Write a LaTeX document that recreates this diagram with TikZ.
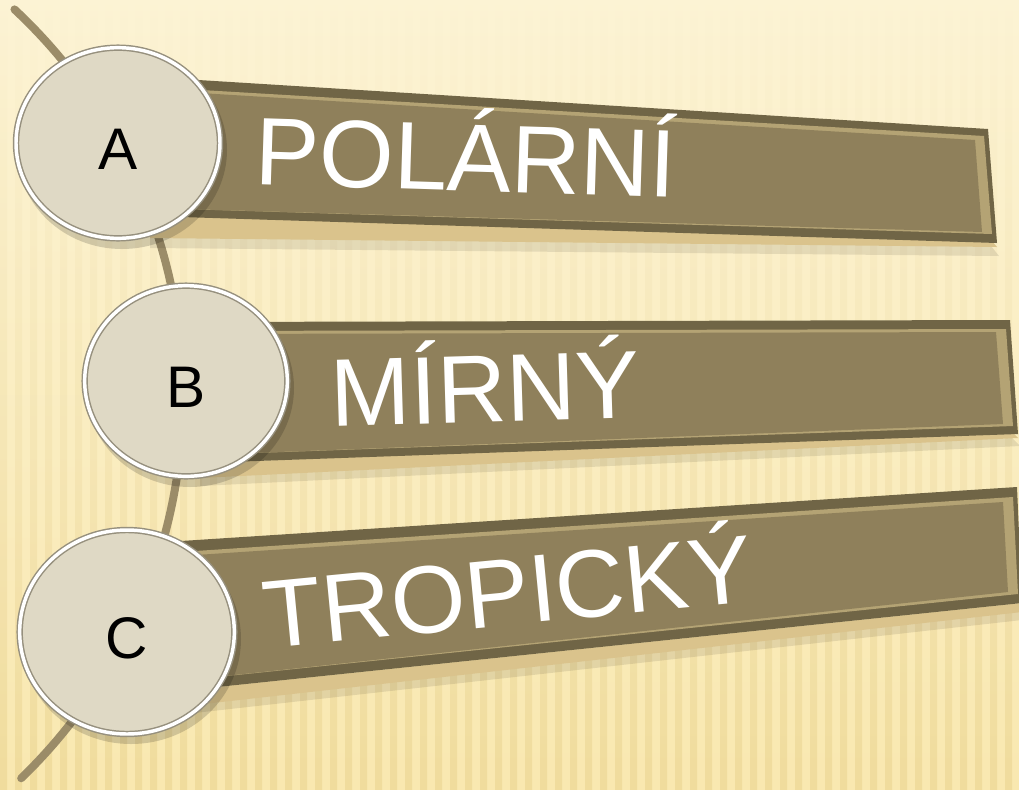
\documentclass[tikz,border=0pt]{standalone}
\usepackage{fontspec}
\setmainfont{Liberation Sans}
\usetikzlibrary{shapes.geometric, positioning, calc}
\definecolor{pozadiHore}{RGB}{252,243,212}
\definecolor{pozadiDole}{RGB}{249,232,176}
\definecolor{prouzek}{RGB}{230,206,134}
\definecolor{oblouk}{RGB}{155,140,104}
\definecolor{listaTmava}{RGB}{112,101,70}
\definecolor{listaHrana}{RGB}{180,163,116}
\definecolor{listaPlocha}{RGB}{140,126,89}
\definecolor{listaBok}{RGB}{218,195,140}
\definecolor{kruhVypln}{RGB}{223,217,197}
\definecolor{kruhOkraj}{RGB}{150,144,126}

\begin{document}
\begin{tikzpicture}[x=0.75pt, y=-0.75pt,
  barshadow/.style={fill=black, opacity=0.09},
  barside/.style={fill=listaBok},
  barframe/.style={fill=listaTmava},
  barbevel/.style={fill=listaHrana},
  barface/.style={fill=listaPlocha, fill opacity=0.92},
  bartext/.style={text=white, font=\fontsize{72}{72}\selectfont, anchor=base, inner sep=0pt},
  discshadow/.style={fill=black, opacity=0.16},
  disc/.style={ellipse, draw=kruhOkraj, line width=1.1pt, double=white, double distance=2.6pt,
               fill=kruhVypln, inner sep=0pt, text height=40pt, text depth=0pt,
               font=\fontsize{44}{44}\selectfont}
]
  \useasboundingbox (0,0) rectangle (1019,789);
  \begin{scope}
  \clip (0,0) rectangle (1019,789);

  % pozadi s prouzky
  \shade[top color=pozadiHore, bottom color=pozadiDole] (0,0) rectangle (1019,789);
  \foreach \sx in {0,15,...,1019} {
    \shade[top color=pozadiHore, bottom color=prouzek, opacity=0.45] (\sx,0) rectangle ++(7,789);
  }

  % oblouk za kruhy
  \draw[oblouk, line width=6pt, line cap=round] (-347,397) ++(-47:530)
    arc[start angle=-47, end angle=46, radius=530];

  % lista A
  \fill[barshadow] (150,222) -- (991,246) -- (999,256) -- (150,248) -- cycle;
  \fill[barside] (150,214) -- (991,240) -- (997,247) -- (150,238) -- cycle;
  \fill[barframe] (150,77) -- (988,129) -- (997,243) -- (150,216) -- cycle;
  \fill[barbevel] (150,87) -- (984,136) -- (992,234) -- (150,208) -- cycle;
  \fill[barface] (150,90) -- (975,140) -- (982,232) -- (150,208) -- cycle;

  % lista B
  \fill[barshadow] (200,470) -- (1012,438) -- (1020,446) -- (200,486) -- cycle;
  \fill[barside] (200,463) -- (1012,432) -- (1018,438) -- (200,478) -- cycle;
  \fill[barframe] (200,322) -- (1010,320) -- (1018,434) -- (200,463) -- cycle;
  \fill[barbevel] (200,331) -- (1006,329) -- (1013,426) -- (200,455) -- cycle;
  \fill[barface] (200,334) -- (996,332) -- (1003,424) -- (200,455) -- cycle;

  % lista C
  \fill[barshadow] (150,702) -- (1022,610) -- (1022,620) -- (150,718) -- cycle;
  \fill[barside] (150,694) -- (1022,603) -- (1022,612) -- (150,710) -- cycle;
  \fill[barframe] (150,543) -- (1017,487) -- (1022,603) -- (150,694) -- cycle;
  \fill[barbevel] (150,554) -- (1013,497) -- (1018,594) -- (150,684) -- cycle;
  \fill[barface] (150,558) -- (1003,502) -- (1008,592) -- (150,684) -- cycle;

  % texty na listach
  \node[bartext, rotate=-1.8] (tA) at (465,191) {POLÁRNÍ};
  \node[bartext, rotate=1.7] (tB) at (486,422) {MÍRNÝ};
  \node[bartext, rotate=5.5] (tC) at (511,625) {TROPICKÝ};

  % kruhy s pismeny
  \fill[discshadow] (122,150) ellipse[x radius=105, y radius=99];
  \fill[discshadow] (190,388) ellipse[x radius=104, y radius=99];
  \fill[discshadow] (131,639) ellipse[x radius=110, y radius=105];
  \node[disc, minimum width=153pt, minimum height=143pt] (kA) at (118,143) {A};
  \node[disc, minimum width=152pt, minimum height=143pt] (kB) at (186,381) {B};
  \node[disc, minimum width=161pt, minimum height=153pt] (kC) at (127,632) {C};
  \end{scope}
\end{tikzpicture}
\end{document}
